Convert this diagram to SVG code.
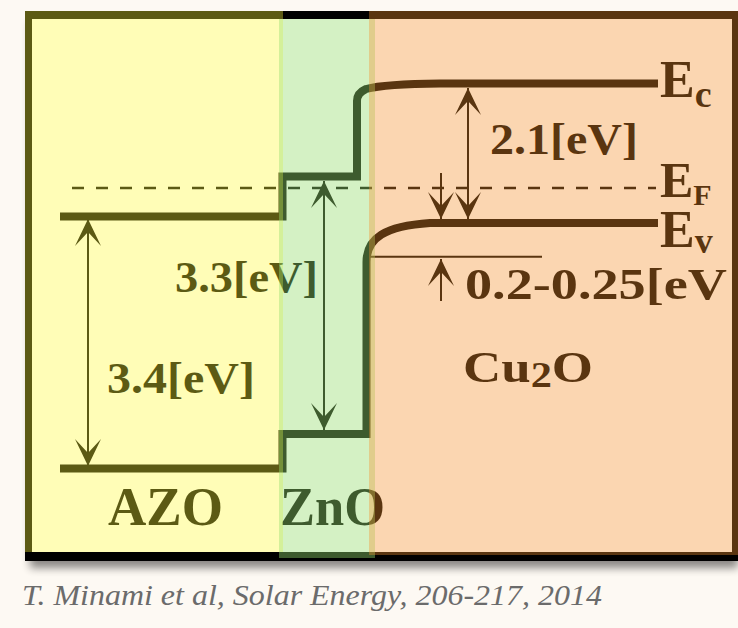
<svg xmlns="http://www.w3.org/2000/svg" width="738" height="628" viewBox="0 0 738 628">
<style>
.band{fill:none;stroke:#000;stroke-width:8;stroke-linejoin:miter;stroke-linecap:butt}
.thin{fill:none;stroke:#000;stroke-width:2}
.dash{fill:none;stroke:#000;stroke-width:2.5;stroke-dasharray:12 12}
.lbl{font-family:"Liberation Serif",Tinos,"Times New Roman",Times,"Nimbus Roman","Nimbus Roman No9 L",FreeSerif,"DejaVu Serif Condensed",serif;font-weight:bold;fill:#000}
.cap{font-family:"Liberation Serif",Tinos,"Times New Roman",Times,"Nimbus Roman","Nimbus Roman No9 L",FreeSerif,"DejaVu Serif Condensed",serif;font-style:italic;fill:#6b6b6b;font-size:30px}
</style>
<defs>
<marker id="ah" markerUnits="userSpaceOnUse" orient="auto-start-reverse" refX="0" refY="0" markerWidth="40" markerHeight="40" overflow="visible">
<path d="M0,0 L-27,-13 L-13,0 L-27,13 Z" fill="#000"/>
</marker>
<filter id="sh" x="-10%" y="-10%" width="120%" height="120%"><feGaussianBlur stdDeviation="4"/></filter>
<clipPath id="inner"><rect x="32" y="19" width="700" height="533"/></clipPath>
</defs>
<rect width="738" height="628" fill="#FDF9F3"/>
<rect x="30" y="22" width="708" height="546" fill="#000" opacity="0.45" filter="url(#sh)"/>
<path d="M25,11 H738 V561 H25 Z M32,19 V552 H732 V19 Z" fill="#000" fill-rule="evenodd"/>
<rect x="32" y="19" width="700" height="533" fill="#fff"/>
<g id="bands">
<path class="dash" d="M72,188 H656"/>
<path class="band" d="M60,216.5 H282.5 V176.5 H357 V101 Q357,93 366,89 Q385,84 440,83.5 H658"/>
<path class="band" d="M60,468.5 H282.5 V434 H366.5 V262 C366.5,238 385,226 430,223 H658"/>
<path class="thin" d="M366,256.7 H542"/>
</g>
<g id="connectors">
<line class="thin" x1="88" y1="219" x2="88" y2="466" marker-start="url(#ah)" marker-end="url(#ah)"/>
<line class="thin" x1="324" y1="181" x2="324" y2="430" marker-start="url(#ah)" marker-end="url(#ah)"/>
<line class="thin" x1="468" y1="88" x2="468" y2="219" marker-start="url(#ah)" marker-end="url(#ah)"/>
<line class="thin" x1="441" y1="173" x2="441" y2="219" marker-end="url(#ah)"/>
<line class="thin" x1="441" y1="301" x2="441" y2="259" marker-end="url(#ah)"/>
</g>
<g id="labels">
<text class="lbl" x="175" y="292" font-size="44" textLength="143" lengthAdjust="spacingAndGlyphs">3.3[eV]</text>
<text class="lbl" x="107" y="393" font-size="44" textLength="148" lengthAdjust="spacingAndGlyphs">3.4[eV]</text>
<text class="lbl" x="490" y="154" font-size="44" textLength="148" lengthAdjust="spacingAndGlyphs">2.1[eV]</text>
<g clip-path="url(#inner)"><text class="lbl" x="465" y="299" font-size="44" textLength="262" lengthAdjust="spacingAndGlyphs">0.2-0.25[eV</text></g>
<text class="lbl" x="463" y="382" font-size="45" textLength="130" lengthAdjust="spacingAndGlyphs">Cu<tspan font-size="36" dy="5">2</tspan><tspan dy="-5">O</tspan></text>
<text class="lbl" x="108" y="525" font-size="54" textLength="115" lengthAdjust="spacingAndGlyphs">AZO</text>
<text class="lbl" x="280" y="525" font-size="54" textLength="105" lengthAdjust="spacingAndGlyphs">ZnO</text>
<text class="lbl" x="660" y="97" font-size="52">E<tspan font-size="38" dy="10">c</tspan></text>
<text class="lbl" x="660" y="197" font-size="50">E<tspan font-size="30" dy="8">F</tspan></text>
<text class="lbl" x="660" y="247" font-size="52">E<tspan font-size="36" dy="6">v</tspan></text>
</g>
<g id="regions">
<rect x="25" y="11" width="258" height="541" fill="#FFFA38" fill-opacity="0.36"/>
<rect x="279" y="19" width="96" height="539" fill="#97DC70" fill-opacity="0.41"/>
<rect x="369" y="11" width="369" height="544" fill="#F38F2B" fill-opacity="0.37"/>
</g>
<text class="cap" x="22" y="605" textLength="580" lengthAdjust="spacingAndGlyphs">T. Minami et al, Solar Energy, 206-217, 2014</text>
</svg>
